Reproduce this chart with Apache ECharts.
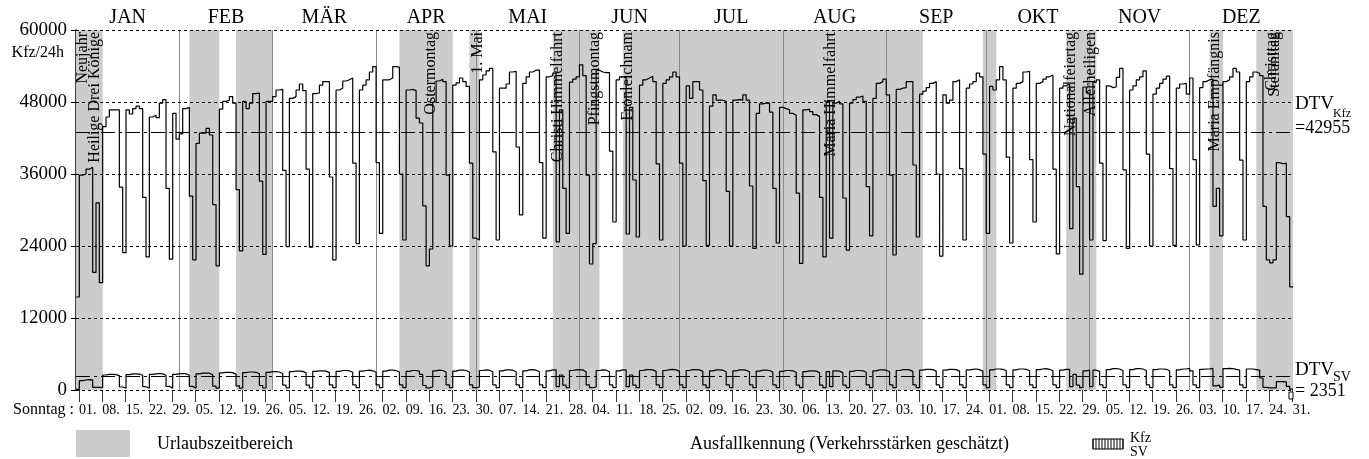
<!DOCTYPE html>
<html lang="de">
<head>
<meta charset="UTF-8">
<title>Tagesverkehr</title>
<script src="https://cdn.jsdelivr.net/npm/echarts@6/dist/echarts.min.js"></script>
<style>
body{margin:0;padding:0;background:#fff}
#main{width:1369px;height:459px}
</style>
</head>
<body>
<div id="main"></div>
<script>
var months = ['JAN','FEB','MÄR','APR','MAI','JUN','JUL','AUG','SEP','OKT','NOV','DEZ'];
var monthStart = [1,32,60,91,121,152,182,213,244,274,305,335];
var sundays = ['01.','08.','15.','22.','29.','05.','12.','19.','26.','05.','12.','19.','26.',
  '02.','09.','16.','23.','30.','07.','14.','21.','28.','04.','11.','18.','25.',
  '02.','09.','16.','23.','30.','06.','13.','20.','27.','03.','10.','17.','24.',
  '01.','08.','15.','22.','29.','05.','12.','19.','26.','03.','10.','17.','24.','31.'];
var holidays = [['Neujahr',1],['Heilige Drei Könige',6],['Ostermontag',107],['1. Mai',121],
  ['Christi Himmelfahrt',145],['Pfingstmontag',156],['Fronleichnam',166],['Maria Himmelfahrt',227],
  ['Nationalfeiertag',299],['Allerheiligen',305],['Maria Empfängnis',342],['Christtag',359],['Stefanitag',360]];
// Urlaubszeit: erster und letzter Tag (Tag im Jahr)
var vacations = [[1,8],[35,43],[49,59],[98,113],[119,121],[144,157],[165,254],[273,276],[298,306],[341,344],[355,365]];
var yTicks = [12000,24000,36000,48000,60000];
var dtvKfz = 42955;
var dtvSv = 2351;

// Kfz/24h, 1. Jan (So), dann je Woche Mo..So
var kfz = [15500,
  35800,36000,36800,37100,19600,31200,17900,
  43900,45500,46700,46700,46700,33800,22900,
  46700,46000,46900,47300,46900,32100,22200,
  45500,45800,45400,47800,48400,33600,21800,
  46100,41800,42700,46900,47100,32300,21700,
  41100,42800,42800,43600,42500,30900,20700,
  46800,48100,48300,48900,47800,33400,23200,
  48100,46900,47800,49400,49500,34800,22600,
  48100,48100,48900,50000,50100,36600,23900,
  48600,48900,50000,51000,49900,36800,23800,
  49400,49500,50800,51400,51400,35500,21700,
  50000,50300,51500,51700,52000,37800,24400,
  50000,50800,51700,53000,53900,37900,26100,
  51700,51700,52000,53900,53800,36000,25000,
  50000,50100,49900,45300,44500,30700,20700,
  23500,48000,51500,51800,51400,35800,24000,
  50800,51200,52000,51400,50600,37800,25300,
  25000,51700,52500,53200,53600,39700,25000,
  50300,50300,51000,53000,53100,40500,29200,
  51100,52200,53000,53300,53300,37900,25300,
  52200,52400,52800,24700,46700,33600,26100,
  51300,51800,52200,54200,52400,35800,21000,
  24400,53300,53000,52900,52900,39800,28000,
  51700,52200,52200,26000,47100,35000,25500,
  50800,51700,52000,52300,51400,37700,25000,
  51100,51700,52200,53000,52200,37800,24000,
  50700,48600,51400,51400,50000,34900,24100,
  47300,49200,48300,48300,48100,33100,24000,
  48300,48400,48300,49200,48300,34000,23600,
  46100,47700,47800,47800,46300,33600,24500,
  47100,46900,46700,46100,45800,32800,21100,
  46700,46800,46400,45900,45600,32100,22200,
  48100,25300,47800,48100,47700,32000,23300,
  47800,48400,48800,49000,48100,33900,25700,
  48600,51100,51400,51800,49200,35800,22500,
  50100,50300,50400,51400,51400,37500,25500,
  49300,49800,50400,51100,51400,36000,22300,
  49200,47800,48300,51400,51700,36900,25000,
  50300,51000,51400,52800,52200,39300,26100,
  50600,50000,51700,53900,51700,38800,24500,
  50300,51100,51400,53000,53100,38400,28000,
  51100,51400,51800,52200,52500,36800,22700,
  50300,50700,51000,26900,45300,33900,19300,
  50500,49500,25000,51300,51700,37800,24900,
  50700,50400,50500,52100,53600,36700,23600,
  50000,50700,51700,52200,53200,39300,24000,
  49300,50300,51100,51800,52300,36900,24100,
  50300,51000,51100,49300,52000,38400,24200,
  50400,51400,51700,51800,30600,33600,25700,
  51400,51700,52200,53600,53000,38300,25000,
  51400,52200,53000,52800,52400,30600,21700,
  21200,21700,37900,37700,37800,28900,17200];

// SV/24h, gleiche Anordnung
var sv = [110,
  1550,1670,1720,1700,450,450,400,
  2500,2600,2600,2550,2400,500,300,
  2550,2700,2700,2650,2450,550,300,
  2600,2700,2750,2700,2450,600,300,
  2600,2700,2750,2700,2450,600,300,
  2700,2800,2800,2800,2550,650,300,
  2850,2950,2950,2900,2650,700,320,
  2900,3000,3000,2950,2700,750,330,
  2950,3050,3050,3000,2750,800,350,
  3050,3150,3150,3100,2850,800,350,
  3100,3200,3200,3150,2900,850,380,
  3100,3250,3250,3200,2950,850,380,
  3150,3250,3300,3200,2950,850,380,
  3150,3300,3300,3250,3000,850,380,
  3100,3250,3250,3150,2600,750,350,
  500,3200,3300,3250,3000,850,380,
  3150,3300,3300,3250,3000,850,380,
  500,3250,3350,3300,3050,850,380,
  3200,3350,3350,3300,3050,850,380,
  3200,3350,3400,3300,3050,850,380,
  3200,3350,3350,550,2500,800,380,
  3250,3350,3400,3350,3050,850,380,
  500,3250,3350,3300,3050,850,380,
  3200,3350,3350,550,2500,800,380,
  3250,3400,3400,3350,3100,850,380,
  3250,3400,3450,3350,3100,850,380,
  3250,3400,3400,3350,3100,850,380,
  3200,3350,3350,3300,3050,850,380,
  3200,3350,3350,3300,3050,850,380,
  3150,3300,3300,3250,3000,850,380,
  3100,3250,3250,3200,2950,800,380,
  3050,3200,3200,3150,2900,800,380,
  3050,550,3200,3150,2900,800,380,
  3100,3250,3250,3200,2950,850,380,
  3200,3350,3350,3300,3050,850,380,
  3250,3400,3400,3350,3100,850,380,
  3300,3450,3450,3400,3150,850,380,
  3300,3450,3450,3400,3150,850,380,
  3350,3450,3500,3400,3150,850,380,
  3350,3500,3500,3450,3200,850,380,
  3350,3500,3500,3450,3200,850,380,
  3400,3500,3550,3450,3200,850,380,
  3300,3450,3450,550,2600,800,380,
  3200,3300,550,3300,3100,850,380,
  3400,3550,3550,3500,3250,850,380,
  3400,3550,3550,3500,3250,850,380,
  3400,3500,3500,3450,3200,850,380,
  3350,3500,3500,3600,3200,850,380,
  3450,3500,3500,3600,700,800,450,
  3550,3600,3550,3450,3300,850,400,
  3500,3500,3400,3300,2000,450,350,
  350,350,1400,1400,1350,600,150];

var FONT = '"Liberation Serif", "Times New Roman", serif';

function steps(arr) {
  var out = arr.map(function (v, i) { return [i, v]; });
  out.push([arr.length, arr[arr.length - 1]]);
  return out;
}

var sundayPos = sundays.map(function (s, i) { return i * 7 + 0.9; });

var chart = echarts.init(document.getElementById('main'));

var option = {
  animation: false,
  backgroundColor: '#fff',
  grid: {left: 76, right: 76, top: 30, bottom: 69, outerBoundsMode: 'none'},
  xAxis: {
    type: 'value', min: 0, max: 365,
    axisLine: {show: false},
    splitLine: {show: false},
    axisTick: {show: true, customValues: sundayPos, length: 12, lineStyle: {color: '#333'}},
    axisLabel: {
      customValues: sundayPos,
      formatter: function (v) { return sundays[Math.round((v - 0.9) / 7)]; },
      fontFamily: FONT, fontSize: 14, color: '#000', align: 'left', margin: 13
    }
  },
  yAxis: {
    type: 'value', min: 0, max: 60000, interval: 12000,
    axisLine: {show: true, lineStyle: {color: '#000', width: 1.5}},
    axisTick: {show: true, length: 5, lineStyle: {color: '#000'}},
    axisLabel: {fontFamily: FONT, fontSize: 19, color: '#000', margin: 9,
      formatter: function (v) { return String(v); }},
    splitLine: {show: false}
  },
  series: [
    {
      type: 'line', data: [], z: 1, silent: true,
      markArea: {
        silent: true, itemStyle: {color: '#cccccc'},
        data: vacations.map(function (r) { return [{xAxis: r[0] - 1}, {xAxis: r[1]}]; })
      }
    },
    {
      type: 'line', data: [], z: 2, silent: true,
      markLine: {
        silent: true, symbol: 'none', label: {show: false}, animation: false,
        lineStyle: {color: '#8a8a8a', width: 1, type: 'solid'},
        data: monthStart.slice(1).map(function (d) { return {xAxis: d - 1}; })
      }
    },
    {
      type: 'line', data: [], z: 3, silent: true,
      markLine: {
        silent: true, symbol: 'none', label: {show: false}, animation: false,
        lineStyle: {color: '#000', width: 1, type: [3, 3]},
        data: [{yAxis: 0}].concat(yTicks.map(function (v) { return {yAxis: v}; }))
      }
    },
    {
      type: 'line', data: [], z: 3, silent: true,
      markLine: {
        silent: true, symbol: 'none', label: {show: false}, animation: false,
        lineStyle: {color: '#000', width: 1, type: [14, 4, 3, 4]},
        data: [{yAxis: dtvKfz}, {yAxis: dtvSv}]
      }
    },
    {
      name: 'Kfz', type: 'line', step: 'end', data: steps(kfz),
      showSymbol: false, z: 5, lineStyle: {color: '#000', width: 1.2}
    },
    {
      name: 'SV', type: 'line', step: 'end', data: steps(sv),
      showSymbol: false, z: 5, lineStyle: {color: '#000', width: 1.2}
    }
  ]
};
chart.setOption(option);

function px(x, y) { return chart.convertToPixel({gridIndex: 0}, [x, y]); }

var g = [];
function txt(x, y, s, size, extra) {
  var st = {text: s, x: 0, y: 0, fill: '#000', font: size + 'px ' + FONT, textAlign: 'left', textVerticalAlign: 'middle'};
  for (var k in extra) st[k] = extra[k];
  return {type: 'text', x: x, y: y, style: st, silent: true, z: 20};
}

var plotTop = px(0, 60000)[1];
var x0 = px(0, 0)[0];

months.forEach(function (m, i) {
  var a = monthStart[i] - 1;
  var b = i < 11 ? monthStart[i + 1] - 1 : 365;
  g.push(txt(px((a + b) / 2, 0)[0], 18, m, 20, {textAlign: 'center'}));
});

holidays.forEach(function (h) {
  var x = Math.max(px(h[1] - 0.5, 0)[0], x0 + 7);
  var t = txt(x, plotTop + 2, h[0], 16, {textAlign: 'right'});
  t.rotation = Math.PI / 2;
  g.push(t);
});

g.push(txt(64, 53, 'Kfz/24h', 16, {textAlign: 'right'}));
g.push(txt(74, 410, 'Sonntag :', 16, {textAlign: 'right'}));

var yk = px(0, dtvKfz)[1];
var ys = px(0, dtvSv)[1];
var xr = px(365, 0)[0] + 2;
g.push(txt(xr, yk - 28, 'DTV', 19));
g.push(txt(xr + 38, yk - 18, 'Kfz', 12));
g.push(txt(xr, yk - 4, '=' + dtvKfz, 18));
g.push(txt(xr, ys - 6, 'DTV', 19));
g.push(txt(xr + 38, ys + 1, 'SV', 14));
g.push(txt(xr, ys + 15, '= ' + dtvSv, 18));

// Legende
g.push({type: 'rect', shape: {x: 76, y: 430, width: 54, height: 27}, style: {fill: '#cccccc'}, silent: true});
g.push(txt(157, 444, 'Urlaubszeitbereich', 18));
g.push(txt(690, 444, 'Ausfallkennung (Verkehrsstärken geschätzt)', 18));
var hatch = [];
for (var i = 0; i <= 10; i++) {
  hatch.push({type: 'line', shape: {x1: 1093 + i * 3, y1: 439, x2: 1093 + i * 3, y2: 449}, style: {stroke: '#000', lineWidth: 1}, silent: true});
}
g.push({type: 'group', children: hatch.concat([
  {type: 'rect', shape: {x: 1093, y: 439, width: 30, height: 10}, style: {fill: 'none', stroke: '#000', lineWidth: 1}, silent: true}
])});
g.push(txt(1130, 438, 'Kfz', 14));
g.push(txt(1130, 452, 'SV', 14));
var pe = px(365, 0);
g.push({type: 'rect', shape: {x: pe[0] - 4, y: pe[1] + 2, width: 4, height: 7}, style: {fill: '#fff', stroke: '#000', lineWidth: 1}, silent: true, z: 20});

chart.setOption({graphic: {elements: g}});
</script>
</body>
</html>
